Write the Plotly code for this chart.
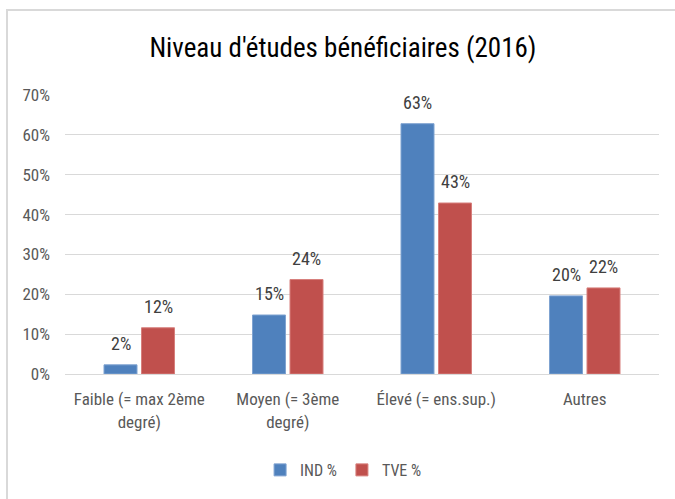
import plotly.graph_objects as go

categories = ["Faible (= max 2ème<br>degré)", "Moyen (= 3ème<br>degré)", "Élevé (= ens.sup.)", "Autres"]
ind_values = [2.3, 14.8, 62.8, 19.6]
tve_values = [11.6, 23.7, 42.9, 21.6]
series_names = ["IND %", "TVE %"]
tick_vals = [0, 10, 20, 30, 40, 50, 60, 70]
tick_text = ["0%", "10%", "20%", "30%", "40%", "50%", "60%", "70%"]

FONT = "Liberation Sans Narrow, Roboto Condensed, Arial Narrow, Roboto, sans-serif"
COLORS = ["#4F81BD", "#C0504D"]
EDGES = ["#7fa3d1", "#d77f7c"]
BAR_SHIFT = [-18.75, 18.75]  # pixel offset of each bar within its group

fig = go.Figure()
annotations = []
for i, (name, vals) in enumerate(zip(series_names, [ind_values, tve_values])):
    fig.add_trace(go.Bar(
        x=categories, y=vals, name=name,
        marker=dict(color=COLORS[i], line=dict(color=EDGES[i], width=1)),
    ))
    for c, v in zip(categories, vals):
        annotations.append(dict(
            x=c, y=v, xref="x", yref="y", text=f"{v:.0f}%", showarrow=False,
            xanchor="center", yanchor="bottom", xshift=BAR_SHIFT[i], yshift=9,
            font=dict(size=18, color="#404040", family=FONT),
        ))

fig.update_layout(
    width=675, height=499,
    margin=dict(l=65, r=16, t=95, b=125),
    paper_bgcolor="white", plot_bgcolor="white",
    font=dict(family=FONT, color="#595959", size=16),
    title=dict(text="Niveau d'études bénéficiaires (2016)", x=0.508, xanchor="center",
               y=1 - 48 / 499, yanchor="middle",
               font=dict(size=27, color="#000000", family=FONT)),
    barmode="group", bargap=0.495, bargroupgap=0.12,
    showlegend=True,
    legend=dict(orientation="h", x=0.469, xanchor="center", y=-0.344, yanchor="middle",
                font=dict(size=16, color="#595959", family=FONT), traceorder="normal",
                itemwidth=30),
    xaxis=dict(showgrid=False, showline=True, linecolor="#d9d9d9", linewidth=1,
               ticks="", ticklabelstandoff=10, tickfont=dict(size=17, color="#595959")),
    yaxis=dict(range=[0, 70], tickmode="array", tickvals=tick_vals, ticktext=tick_text,
               showgrid=True, ticklabelstandoff=14,
               gridcolor="#d9d9d9", gridwidth=1, zeroline=False, showline=False,
               tickfont=dict(size=17, color="#595959"), ticks=""),
    annotations=annotations,
    shapes=[dict(type="rect", xref="paper", yref="paper",
                 x0=(7 - 65) / 594, x1=1.2, y0=-0.6, y1=(374 - 10) / 279,
                 line=dict(color="#d9d9d9", width=2), fillcolor="rgba(0,0,0,0)", layer="below")],
)

fig.write_html("out.html", config={"displayModeBar": False},
               post_script="document.body.style.margin='0';document.body.style.overflow='hidden';")
